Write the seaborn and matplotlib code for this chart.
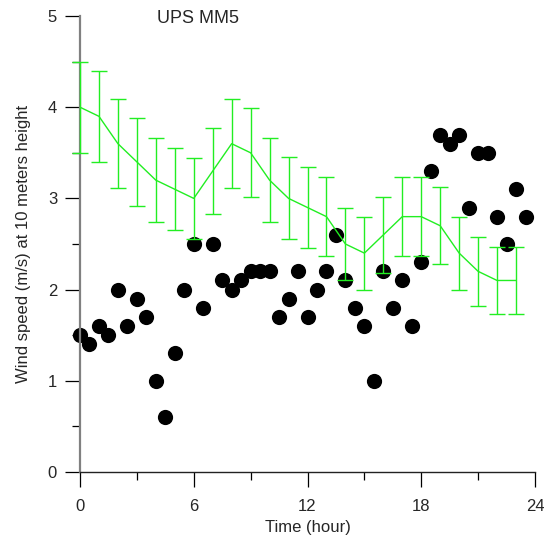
import matplotlib
matplotlib.use("Agg")
import matplotlib.pyplot as plt
from matplotlib.ticker import MultipleLocator
import numpy as np
import pandas as pd
import seaborn as sns

# Observed wind speed, every half hour
obs_hour = [0, 0.5, 1, 1.5, 2, 2.5, 3, 3.5, 4, 4.5, 5, 5.5,
            6, 6.5, 7, 7.5, 8, 8.5, 9, 9.5, 10, 10.5, 11, 11.5,
            12, 12.5, 13, 13.5, 14, 14.5, 15, 15.5, 16, 16.5, 17, 17.5,
            18, 18.5, 19, 19.5, 20, 20.5, 21, 21.5, 22, 22.5, 23, 23.5]
obs_speed = [1.5, 1.4, 1.6, 1.5, 2.0, 1.6, 1.9, 1.7, 1.0, 0.6, 1.3, 2.0,
             2.5, 1.8, 2.5, 2.1, 2.0, 2.1, 2.2, 2.2, 2.2, 1.7, 1.9, 2.2,
             1.7, 2.0, 2.2, 2.6, 2.1, 1.8, 1.6, 1.0, 2.2, 1.8, 2.1, 1.6,
             2.3, 3.3, 3.7, 3.6, 3.7, 2.9, 3.5, 3.5, 2.8, 2.5, 3.1, 2.8]

# Model (UPS MM5) hourly mean and spread
model_hour = list(range(24))
model_mean = [4.0, 3.9, 3.6, 3.4, 3.2, 3.1, 3.0, 3.3, 3.6, 3.5, 3.2, 3.0,
              2.9, 2.8, 2.5, 2.4, 2.6, 2.8, 2.8, 2.7, 2.4, 2.2, 2.1, 2.1]
model_sd = [0.50, 0.50, 0.49, 0.48, 0.46, 0.45, 0.44, 0.47, 0.49, 0.49, 0.46, 0.45,
            0.44, 0.43, 0.40, 0.40, 0.42, 0.43, 0.43, 0.42, 0.40, 0.38, 0.37, 0.37]

obs = pd.DataFrame({"hour": obs_hour, "speed": obs_speed})
model = pd.DataFrame({"hour": model_hour, "mean": model_mean, "sd": model_sd})

sns.set_style("white")
plt.rcParams["font.family"] = ["Liberation Sans", "DejaVu Sans"]

fig = plt.figure(figsize=(5.44, 5.36), dpi=100)
ax = fig.add_axes([80 / 544, 64 / 536, 455 / 544, 456 / 536])

green = "#22ee22"

sns.scatterplot(data=obs, x="hour", y="speed", ax=ax, color="black",
                s=120, linewidth=0, zorder=2, legend=False, clip_on=False)
sns.lineplot(data=model, x="hour", y="mean", ax=ax, color=green,
             linewidth=1.0, zorder=3, errorbar=None)
ax.errorbar(model["hour"], model["mean"], yerr=model["sd"], fmt="none",
            ecolor=green, elinewidth=1.0, capsize=5.5, capthick=1.0,
            zorder=3, clip_on=False)

ax.set_xlim(0, 24)
ax.set_ylim(0, 5)
ax.xaxis.set_major_locator(MultipleLocator(6))
ax.xaxis.set_minor_locator(MultipleLocator(3))
ax.yaxis.set_major_locator(MultipleLocator(1))
ax.yaxis.set_minor_locator(MultipleLocator(0.5))
ax.tick_params(axis="both", which="major", direction="out", length=10.5,
               width=0.9, color="black", labelsize=12,
               bottom=True, left=True)
ax.tick_params(axis="x", which="major", pad=9)
ax.tick_params(axis="y", which="major", pad=6)
ax.tick_params(axis="both", which="minor", direction="out", length=5.5,
               width=0.9, color="black", bottom=True, left=True)

for side in ("top", "right"):
    ax.spines[side].set_visible(False)
ax.spines["left"].set_color("#808080")
ax.spines["left"].set_linewidth(1.6)
ax.spines["bottom"].set_color("#222222")
ax.spines["bottom"].set_linewidth(1.0)

ax.set_xlabel("Time (hour)", fontsize=12, labelpad=4)
ax.set_ylabel("Wind speed (m/s) at 10 meters height", fontsize=12, labelpad=12)
ax.text(6.2, 4.97, "UPS MM5", fontsize=13, ha="center", va="center")

fig.savefig("out.png", dpi=100, facecolor="white")
